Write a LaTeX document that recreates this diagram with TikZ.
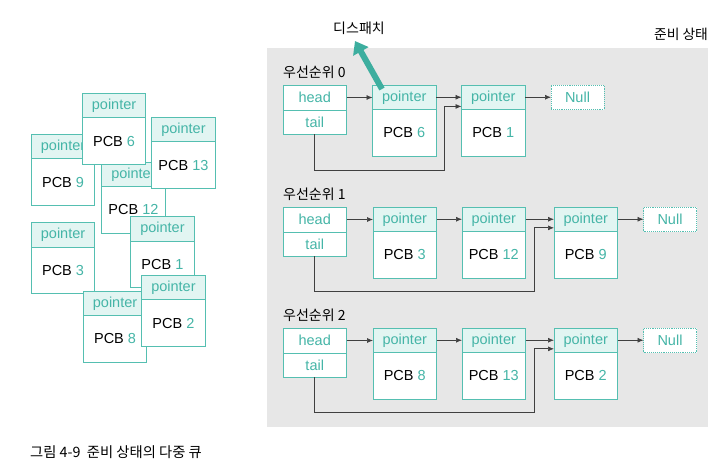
\documentclass[tikz,border=0pt]{standalone}
\usepackage{fontspec}
\setmainfont{Liberation Sans}
\newfontfamily\krfont{Noto Sans CJK KR}
\usetikzlibrary{arrows.meta,calc}
\definecolor{tealline}{HTML}{55BFB1}
\definecolor{tealtxt}{HTML}{45B5A7}
\definecolor{ptrfill}{HTML}{E2F5F2}
\definecolor{bggray}{HTML}{E7E7E7}
\definecolor{arrgray}{HTML}{404040}
\definecolor{dispteal}{HTML}{3DAE9F}
\tikzset{
  cellbase/.style={draw=tealline, line width=0.9pt, inner sep=0pt, outer sep=0pt,
    minimum width=63.5pt, font=\fontsize{14.5}{17}\selectfont},
  ptr/.style={cellbase, fill=ptrfill, minimum height=24.5pt, text=tealtxt, anchor=north west},
  body/.style={cellbase, fill=white, minimum height=46.5pt, text=black, anchor=north},
  hcell/.style={cellbase, fill=white, minimum height=25pt, text=tealtxt, anchor=north west},
  tcell/.style={cellbase, fill=white, minimum height=24pt, text=tealtxt, anchor=north},
  nullbox/.style={draw=tealline, line width=0.9pt, densely dotted, fill=white, inner sep=0pt,
    outer sep=0pt, minimum width=53pt, minimum height=24.5pt, text=tealtxt, anchor=north west,
    font=\fontsize{14.5}{17}\selectfont},
  arr/.style={draw=arrgray, line width=0.7pt, -{Latex[length=6pt,width=5pt]}},
  krlabel/.style={font=\krfont\fontsize{14}{16}\selectfont, text=black, inner sep=0pt},
}
\newcommand\pcbbox[4]{%
  \node[ptr] (#1p) at (#2,#3) {pointer};
  \node[body] (#1b) at (#1p.south) {PCB \textcolor{tealtxt}{#4}};
}
\begin{document}
\begin{tikzpicture}[x=1pt,y=-1pt]
\useasboundingbox (0,0) rectangle (724,475);
% background
\fill[bggray] (267,48) rectangle (708,427);

% scattered PCBs (left)
\pcbbox{LnineA}{31.3}{134.3}{9}
\pcbbox{LtwelveA}{101.7}{162}{12}
\pcbbox{LsixA}{82.3}{93.3}{6}
\pcbbox{LthirteenA}{151.7}{117.3}{13}
\pcbbox{LthreeA}{31.3}{222.7}{3}
\pcbbox{LoneA}{130.7}{216.7}{1}
\pcbbox{LeightA}{83.3}{291}{8}
\pcbbox{LtwoA}{141.7}{275.3}{2}

% titles
\node[krlabel] (disp) at (359,28) {디스패치};
\node[krlabel, font=\krfont\fontsize{13.8}{16}\selectfont] (ready) at (681,34) {준비 상태};

% ---- row 0
\node[krlabel, anchor=west] (lab0) at (283,72) {우선순위 0};
\node[hcell] (h0) at (283,85) {head};
\node[tcell] (t0) at (h0.south) {tail};
\pcbbox{qza}{372.5}{85}{6}
\pcbbox{qzb}{461.5}{85}{1}
\node[nullbox] (n0) at (551,85) {Null};
\draw[arr] (h0.east) -- (h0.east -| qzap.west);
\draw[arr] (qzap.east) -- (qzap.east -| qzbp.west);
\draw[arr] (qzbp.east) -- (qzbp.east -| n0.west);
\coordinate (c0) at (444,170);
\draw[arr] (t0.south) |- (c0) |- ($(qzbp.west)!0.75!(qzbp.south west)$);
% dispatch arrow
\coordinate (dsrc) at (382,89);
\coordinate (dtip) at (355,41);
\draw[dispteal, line width=6pt, -{Triangle[length=12pt,width=17pt]}] (dsrc) -- (dtip);

% ---- row 1
\node[krlabel, anchor=west] (lab1) at (283,194) {우선순위 1};
\node[hcell] (h1) at (283,207) {head};
\node[tcell] (t1) at (h1.south) {tail};
\pcbbox{qoa}{373}{207}{3}
\pcbbox{qob}{462}{207}{12}
\pcbbox{qoc}{554}{207}{9}
\node[nullbox] (n1) at (643.5,207) {Null};
\draw[arr] (h1.east) -- (h1.east -| qoap.west);
\draw[arr] (qoap.east) -- (qoap.east -| qobp.west);
\draw[arr] (qobp.east) -- (qobp.east -| qocp.west);
\draw[arr] (qocp.east) -- (qocp.east -| n1.west);
\coordinate (c1) at (534,291);
\draw[arr] (t1.south) |- (c1) |- ($(qocp.west)!0.7!(qocp.south west)$);

% ---- row 2
\node[krlabel, anchor=west] (lab2) at (283,315) {우선순위 2};
\node[hcell] (h2) at (283,328) {head};
\node[tcell] (t2) at (h2.south) {tail};
\pcbbox{qta}{373}{328}{8}
\pcbbox{qtb}{462}{328}{13}
\pcbbox{qtc}{554}{328}{2}
\node[nullbox] (n2) at (643.5,328) {Null};
\draw[arr] (h2.east) -- (h2.east -| qtap.west);
\draw[arr] (qtap.east) -- (qtap.east -| qtbp.west);
\draw[arr] (qtbp.east) -- (qtbp.east -| qtcp.west);
\draw[arr] (qtcp.east) -- (qtcp.east -| n2.west);
\coordinate (c2) at (534,412);
\draw[arr] (t2.south) |- (c2) |- ($(qtcp.west)!0.7!(qtcp.south west)$);

% caption
\node[krlabel, anchor=west, font=\krfont\fontsize{14.3}{16}\selectfont] (cap) at (30,452) {그림 4-9\ \ 준비 상태의 다중 큐};
\end{tikzpicture}
\end{document}
